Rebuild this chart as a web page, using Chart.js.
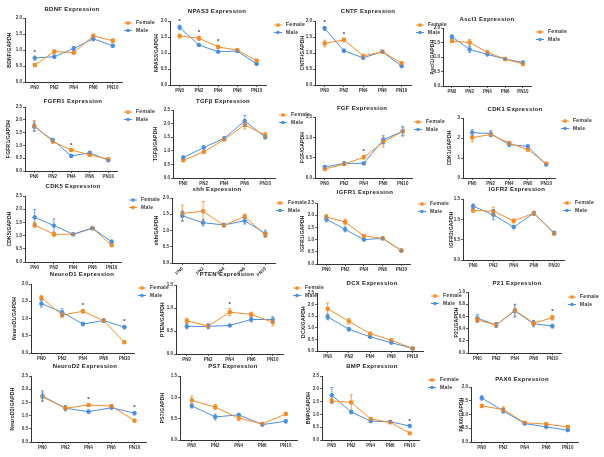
<!DOCTYPE html>
<html>
<head>
<meta charset="utf-8">
<script src="https://cdn.jsdelivr.net/npm/chart.js@4.4.1/dist/chart.umd.min.js"></script>
<style>
html, body { margin: 0; padding: 0; background: #fff; }
#wrap { position: relative; width: 604px; height: 457px; overflow: hidden; background: #fff; }
#wrap canvas { position: absolute; left: 0; top: 0; }
</style>
</head>
<body>
<div id="wrap"></div>
<script>
// x categories shared by every panel
const ages = ['PN0', 'PN2', 'PN4', 'PN6', 'PN10'];

// values (mean and error per sex)
const bdnfF = [0.53, 0.95, 0.92, 1.44, 1.29];
const bdnfM = [0.75, 0.79, 1.05, 1.35, 1.13];
const bdnfFe = [0.05, 0.05, 0.04, 0.06, 0.05];
const bdnfMe = [0.06, 0.05, 0.06, 0.06, 0.05];

const npas3F = [1.53, 1.46, 1.19, 1.09, 0.76];
const npas3M = [1.80, 1.25, 1.04, 1.06, 0.66];
const npas3Fe = [0.06, 0.07, 0.05, 0.03, 0.04];
const npas3Me = [0.07, 0.03, 0.03, 0.03, 0.03];

const cntfF = [1.30, 1.41, 0.91, 1.04, 0.68];
const cntfM = [1.77, 1.07, 0.85, 1.04, 0.59];
const cntfFe = [0.10, 0.06, 0.03, 0.03, 0.03];
const cntfMe = [0.06, 0.05, 0.03, 0.03, 0.03];

const ascl1F = [1.55, 1.50, 1.16, 0.93, 0.76];
const ascl1M = [1.70, 1.26, 1.09, 0.93, 0.81];
const ascl1Fe = [0.06, 0.10, 0.04, 0.02, 0.03];
const ascl1Me = [0.06, 0.10, 0.04, 0.02, 0.03];

const fgfr1F = [1.77, 1.15, 0.82, 0.63, 0.46];
const fgfr1M = [1.73, 1.21, 0.59, 0.71, 0.42];
const fgfr1Fe = [0.20, 0.05, 0.04, 0.06, 0.04];
const fgfr1Me = [0.18, 0.06, 0.05, 0.04, 0.03];

const tgfbF = [0.65, 0.96, 1.42, 1.95, 1.58];
const tgfbM = [0.75, 1.12, 1.46, 2.10, 1.50];
const tgfbFe = [0.05, 0.04, 0.05, 0.15, 0.10];
const tgfbMe = [0.06, 0.06, 0.05, 0.20, 0.06];

const fgfF = [0.22, 0.34, 0.51, 0.88, 1.15];
const fgfM = [0.27, 0.36, 0.36, 0.94, 1.15];
const fgfFe = [0.03, 0.03, 0.04, 0.12, 0.10];
const fgfMe = [0.03, 0.03, 0.02, 0.10, 0.12];

const cdk1F = [2.02, 2.17, 1.75, 1.42, 0.72];
const cdk1M = [2.27, 2.22, 1.67, 1.58, 0.67];
const cdk1Fe = [0.20, 0.10, 0.06, 0.06, 0.03];
const cdk1Me = [0.15, 0.15, 0.08, 0.06, 0.03];

const cdk5F = [1.69, 1.38, 1.05, 1.28, 0.77];
const cdk5M = [1.40, 1.05, 1.05, 1.28, 0.64];
const cdk5Fe = [0.30, 0.25, 0.03, 0.05, 0.05];
const cdk5Me = [0.10, 0.08, 0.04, 0.06, 0.03];

const shhF = [1.53, 1.59, 1.16, 1.43, 0.86];
const shhM = [1.45, 1.24, 1.17, 1.30, 0.91];
const shhFe = [0.25, 0.30, 0.05, 0.08, 0.08];
const shhMe = [0.15, 0.10, 0.05, 0.10, 0.10];

const igfr1F = [1.93, 1.72, 1.15, 1.05, 0.55];
const igfr1M = [1.83, 1.42, 1.00, 1.05, 0.55];
const igfr1Fe = [0.10, 0.12, 0.03, 0.03, 0.02];
const igfr1Me = [0.10, 0.10, 0.04, 0.03, 0.02];

const igfr2F = [1.22, 1.20, 0.96, 1.15, 0.65];
const igfr2M = [1.32, 1.11, 0.81, 1.15, 0.67];
const igfr2Fe = [0.06, 0.10, 0.05, 0.05, 0.03];
const igfr2Me = [0.06, 0.12, 0.04, 0.04, 0.03];

const neurod1F = [1.60, 1.10, 1.21, 0.94, 0.31];
const neurod1M = [1.43, 1.18, 0.84, 0.94, 0.75];
const neurod1Fe = [0.06, 0.08, 0.05, 0.04, 0.02];
const neurod1Me = [0.10, 0.10, 0.05, 0.05, 0.05];

const ptenF = [0.72, 0.61, 0.91, 0.86, 0.69];
const ptenM = [0.60, 0.60, 0.62, 0.75, 0.75];
const ptenFe = [0.06, 0.05, 0.08, 0.05, 0.08];
const ptenMe = [0.05, 0.05, 0.02, 0.05, 0.06];

const dcxF = [1.82, 1.28, 0.75, 0.46, 0.11];
const dcxM = [1.47, 0.94, 0.61, 0.36, 0.11];
const dcxFe = [0.25, 0.12, 0.05, 0.03, 0.02];
const dcxMe = [0.12, 0.08, 0.04, 0.04, 0.02];

const p21F = [0.54, 0.46, 0.70, 0.49, 0.58];
const p21M = [0.57, 0.46, 0.69, 0.48, 0.44];
const p21Fe = [0.04, 0.04, 0.10, 0.04, 0.04];
const p21Me = [0.06, 0.04, 0.10, 0.05, 0.03];

const neurod2F = [1.71, 1.28, 1.40, 1.36, 0.81];
const neurod2M = [1.74, 1.28, 1.15, 1.30, 1.09];
const neurod2Fe = [0.15, 0.08, 0.05, 0.06, 0.04];
const neurod2Me = [0.20, 0.10, 0.05, 0.05, 0.06];

const ps7F = [0.93, 0.77, 0.51, 0.38, 0.61];
const ps7M = [0.80, 0.54, 0.59, 0.36, 0.44];
const ps7Fe = [0.10, 0.06, 0.06, 0.03, 0.04];
const ps7Me = [0.05, 0.07, 0.03, 0.03, 0.04];

const bmpF = [1.52, 1.47, 0.82, 0.69, 0.26];
const bmpM = [1.75, 1.09, 0.74, 0.71, 0.55];
const bmpFe = [0.10, 0.30, 0.05, 0.04, 0.03];
const bmpMe = [0.30, 0.06, 0.05, 0.03, 0.04];

const pax6F = [1.31, 1.18, 0.70, 0.65, 0.55];
const pax6M = [1.60, 1.13, 0.67, 0.55, 0.43];
const pax6Fe = [0.06, 0.10, 0.03, 0.03, 0.03];
const pax6Me = [0.08, 0.08, 0.03, 0.03, 0.04];

const ORANGE = 'rgb(242,140,42)';
const BLUE = 'rgb(76,142,220)';
const INK = '#333';
const FONT = '"Liberation Sans", Arial, sans-serif';

// where each panel sits on the page (axis x, top tick y, zero y, first/last point x,
// title centre, legend marker, y-title x)
const panels = [
  { title: 'BDNF Expression', ytitle: 'BDNF/GAPDH', f: bdnfF, m: bdnfM, fe: bdnfFe, me: bdnfMe, sig: [0], max: 2, step: 0.5,
    ax: 25, top: 18, zero: 82, p0: 33, p10: 111, tx: 72, ty: 9, lx: 128, ly: 23, yt: 10 },
  { title: 'NPAS3 Expression', ytitle: 'NPAS3/GAPDH', f: npas3F, m: npas3M, fe: npas3Fe, me: npas3Me, sig: [0, 1, 2], max: 2, step: 0.5,
    ax: 170, top: 21, zero: 85, p0: 181, p10: 258, tx: 217, ty: 11, lx: 278, ly: 25, yt: 157 },
  { title: 'CNTF Expression', ytitle: 'CNTF/GAPDH', f: cntfF, m: cntfM, fe: cntfFe, me: cntfMe, sig: [0, 1], max: 2, step: 0.5,
    ax: 315, top: 21, zero: 85, p0: 325, p10: 402, tx: 368, ty: 11, lx: 420, ly: 25, yt: 303 },
  { title: 'Ascl1 Expression', ytitle: 'Ascl1/GAPDH', f: ascl1F, m: ascl1M, fe: ascl1Fe, me: ascl1Me, sig: [], max: 2, step: 0.5,
    ax: 443, top: 28, zero: 86, p0: 452, p10: 523, tx: 487, ty: 19, lx: 540, ly: 32, yt: 433 },

  { title: 'FGFR1 Expression', ytitle: 'FGFR1/GAPDH', f: fgfr1F, m: fgfr1M, fe: fgfr1Fe, me: fgfr1Me, sig: [2], max: 2.5, step: 0.5,
    ax: 25, top: 107, zero: 171, p0: 35, p10: 109, tx: 73, ty: 101, lx: 128, ly: 112, yt: 9 },
  { title: 'TGFβ Expression', ytitle: 'TGFβ/GAPDH', f: tgfbF, m: tgfbM, fe: tgfbFe, me: tgfbMe, sig: [], max: 2.5, step: 0.5,
    ax: 173, top: 110, zero: 178, p0: 182, p10: 264, tx: 223, ty: 101, lx: 283, ly: 115, yt: 156 },
  { title: 'FGF Expression', ytitle: 'FGF/GAPDH', f: fgfF, m: fgfM, fe: fgfFe, me: fgfMe, sig: [2], max: 1.5, step: 0.5,
    ax: 315, top: 117, zero: 178, p0: 323, p10: 401, tx: 362, ty: 108, lx: 418, ly: 122, yt: 303 },
  { title: 'CDK1 Expression', ytitle: 'CDK1/GAPDH', f: cdk1F, m: cdk1M, fe: cdk1Fe, me: cdk1Me, sig: [], max: 3, step: 1,
    ax: 463, top: 118, zero: 178, p0: 473, p10: 547, tx: 515, ty: 109, lx: 565, ly: 121, yt: 450 },

  { title: 'CDK5 Expression', ytitle: 'CDK5/GAPDH', f: cdk5F, m: cdk5M, fe: cdk5Fe, me: cdk5Me, sig: [], max: 2.5, step: 0.5, swap: true,
    ax: 25, top: 196, zero: 262, p0: 36, p10: 113, tx: 73, ty: 186, lx: 133, ly: 200, yt: 10 },
  { title: 'shh Expression', ytitle: 'shh/GAPDH', f: shhF, m: shhM, fe: shhFe, me: shhMe, sig: [], max: 2, step: 0.5, rot: 45,
    ax: 172, top: 198, zero: 263, p0: 183, p10: 266, tx: 217, ty: 189, lx: 280, ly: 203, yt: 157 },
  { title: 'IGFR1 Expression', ytitle: 'IGFR1/GAPDH', f: igfr1F, m: igfr1M, fe: igfr1Fe, me: igfr1Me, sig: [], max: 2.5, step: 0.5,
    ax: 317, top: 203, zero: 264, p0: 329, p10: 404, tx: 365, ty: 192, lx: 422, ly: 204, yt: 303 },
  { title: 'IGFR2 Expression', ytitle: 'IGFR2/GAPDH', f: igfr2F, m: igfr2M, fe: igfr2Fe, me: igfr2Me, sig: [], max: 1.5, step: 0.5,
    ax: 463, top: 199, zero: 260, p0: 472, p10: 553, tx: 517, ty: 189, lx: 567, ly: 203, yt: 452 },

  { title: 'NeuroD1 Expression', ytitle: 'NeuroD1/GAPDH', f: neurod1F, m: neurod1M, fe: neurod1Fe, me: neurod1Me, sig: [2, 4], max: 2, step: 0.5,
    ax: 31, top: 284, zero: 353, p0: 41, p10: 124, tx: 82, ty: 274, lx: 142, ly: 288, yt: 15 },
  { title: 'PTEN Expression', ytitle: 'PTEN/GAPDH', f: ptenF, m: ptenM, fe: ptenFe, me: ptenMe, sig: [2], max: 1.5, step: 0.5,
    ax: 176, top: 285, zero: 354, p0: 188, p10: 274, tx: 227, ty: 274, lx: 297, ly: 288, yt: 163 },
  { title: 'DCX Expression', ytitle: 'DCX/GAPDH', f: dcxF, m: dcxM, fe: dcxFe, me: dcxMe, sig: [], max: 2.5, step: 0.5,
    ax: 317, top: 293, zero: 351, p0: 329, p10: 414, tx: 372, ty: 283, lx: 435, ly: 296, yt: 304 },
  { title: 'P21 Expression', ytitle: 'P21/GAPDH', f: p21F, m: p21M, fe: p21Fe, me: p21Me, sig: [4], max: 1, step: 0.2,
    ax: 468, top: 292, zero: 353, p0: 478, p10: 553, tx: 517, ty: 283, lx: 572, ly: 297, yt: 457 },

  { title: 'NeuroD2 Expression', ytitle: 'NeuroD2/GAPDH', f: neurod2F, m: neurod2M, fe: neurod2Fe, me: neurod2Me, sig: [2, 4], max: 2.5, step: 0.5,
    ax: 31, top: 376, zero: 442, p0: 41, p10: 133, tx: 85, ty: 366, lx: null, ly: null, yt: 13 },
  { title: 'PS7 Expression', ytitle: 'PS7/GAPDH', f: ps7F, m: ps7M, fe: ps7Fe, me: ps7Me, sig: [], max: 1.5, step: 0.5,
    ax: 180, top: 376, zero: 440, p0: 190, p10: 284, tx: 233, ty: 366, lx: null, ly: null, yt: 163 },
  { title: 'BMP Expression', ytitle: 'BMP/GAPDH', f: bmpF, m: bmpM, fe: bmpFe, me: bmpMe, sig: [4], max: 2.5, step: 0.5,
    ax: 322, top: 376, zero: 440, p0: 332, p10: 410, tx: 372, ty: 366, lx: 432, ly: 380, yt: 309 },
  { title: 'PAX6 Expression', ytitle: 'PAX6/GAPDH', f: pax6F, m: pax6M, fe: pax6Fe, me: pax6Me, sig: [], max: 2, step: 0.5,
    ax: 471, top: 387, zero: 442, p0: 479, p10: 565, tx: 522, ty: 379, lx: null, ly: null, yt: 462 }
];

const W = 604, H = 457, YW = 20, XH = 14;

function marker(ctx, style, x, y, color) {
  ctx.fillStyle = color;
  if (style === 'rect') {
    ctx.fillRect(x - 1.6, y - 1.6, 3.2, 3.2);
  } else {
    ctx.beginPath();
    ctx.arc(x, y, 1.8, 0, Math.PI * 2);
    ctx.fill();
  }
}

// error bars, stars, titles and the little legend
const panelDeco = {
  id: 'panelDeco',
  afterDatasetsDraw(chart) {
    const p = chart.options.plugins.panelDeco.panel;
    const ctx = chart.ctx;
    const xs = chart.scales.x, ys = chart.scales.y;
    ctx.save();

    chart.data.datasets.forEach(ds => {
      ctx.strokeStyle = ds.borderColor;
      ctx.lineWidth = 0.8;
      ds.data.forEach((v, i) => {
        const e = ds.errors[i];
        const x = xs.getPixelForValue(i);
        const a = ys.getPixelForValue(v - e), b = ys.getPixelForValue(v + e);
        ctx.beginPath();
        ctx.moveTo(x, a); ctx.lineTo(x, b);
        ctx.moveTo(x - 1.5, a); ctx.lineTo(x + 1.5, a);
        ctx.moveTo(x - 1.5, b); ctx.lineTo(x + 1.5, b);
        ctx.stroke();
      });
    });

    ctx.fillStyle = INK;
    ctx.font = 'bold 6px ' + FONT;
    ctx.textAlign = 'center';
    ctx.textBaseline = 'bottom';
    p.sig.forEach(i => {
      const hi = Math.max(p.f[i] + p.fe[i], p.m[i] + p.me[i]);
      ctx.fillText('*', xs.getPixelForValue(i), ys.getPixelForValue(hi) - 1);
    });

    ctx.fillStyle = '#222';
    ctx.font = 'bold 6px ' + FONT;
    ctx.letterSpacing = '0.3px';
    ctx.textBaseline = 'middle';
    ctx.fillText(p.title, p.tx, p.ty);

    ctx.save();
    ctx.font = 'bold 5px ' + FONT;
    ctx.letterSpacing = '0.2px';
    ctx.translate(p.yt, (p.top + p.zero) / 2);
    ctx.rotate(-Math.PI / 2);
    ctx.fillText(p.ytitle, 0, 0);
    ctx.restore();

    if (p.lx !== null) {
      ctx.font = 'bold 5px ' + FONT;
      ctx.letterSpacing = '0.3px';
      ctx.textAlign = 'left';
      chart.data.datasets.forEach((ds, k) => {
        const y = p.ly + k * 7.5;
        ctx.strokeStyle = ds.borderColor;
        ctx.lineWidth = 1;
        ctx.beginPath();
        ctx.moveTo(p.lx - 4, y); ctx.lineTo(p.lx + 4, y);
        ctx.stroke();
        marker(ctx, ds.pointStyle, p.lx, y, ds.borderColor);
        ctx.fillStyle = '#333';
        ctx.fillText(ds.label, p.lx + 8, y);
      });
    }
    ctx.restore();
  }
};

const wrap = document.getElementById('wrap');

panels.forEach(p => {
  const canvas = document.createElement('canvas');
  canvas.width = W;
  canvas.height = H;
  wrap.appendChild(canvas);

  const s = (p.p10 - p.p0) / 4;
  const right = p.ax + 5 * s;
  const fColor = p.swap ? BLUE : ORANGE;
  const mColor = p.swap ? ORANGE : BLUE;
  const tickFont = { family: FONT, size: 4.5, weight: 'bold' };
  const axisGrid = { display: true, drawOnChartArea: false, drawTicks: true, tickLength: 2, color: INK, lineWidth: 0.8 };

  new Chart(canvas, {
    type: 'line',
    data: {
      labels: ages,
      datasets: [
        { label: 'Female', data: p.f, errors: p.fe, borderColor: fColor, backgroundColor: fColor,
          pointStyle: p.swap ? 'circle' : 'rect', pointRadius: p.swap ? 1.8 : 2.2, borderWidth: 1, tension: 0, clip: false },
        { label: 'Male', data: p.m, errors: p.me, borderColor: mColor, backgroundColor: mColor,
          pointStyle: p.swap ? 'rect' : 'circle', pointRadius: p.swap ? 2.2 : 1.8, borderWidth: 1, tension: 0, clip: false }
      ]
    },
    options: {
      responsive: false,
      animation: false,
      devicePixelRatio: 1,
      layout: { padding: { left: p.ax - YW, top: p.top, right: W - right, bottom: H - p.zero - XH } },
      scales: {
        x: {
          offset: true,
          grid: Object.assign({ offset: false }, axisGrid),
          border: { display: true, color: INK, width: 1 },
          ticks: { font: tickFont, color: INK, padding: 1, autoSkip: false,
                   maxRotation: p.rot || 0, minRotation: p.rot || 0 },
          afterFit: sc => { sc.height = XH; }
        },
        y: {
          min: 0,
          max: p.max,
          grid: axisGrid,
          border: { display: true, color: INK, width: 1 },
          ticks: { stepSize: p.step, font: tickFont, color: INK, padding: 1,
                   callback: v => p.step >= 1 ? v.toFixed(0) : v.toFixed(1) },
          afterFit: sc => { sc.width = YW; }
        }
      },
      plugins: {
        legend: { display: false },
        tooltip: { enabled: false },
        title: { display: false },
        panelDeco: { panel: p }
      }
    },
    plugins: [panelDeco]
  });
});
</script>
</body>
</html>
